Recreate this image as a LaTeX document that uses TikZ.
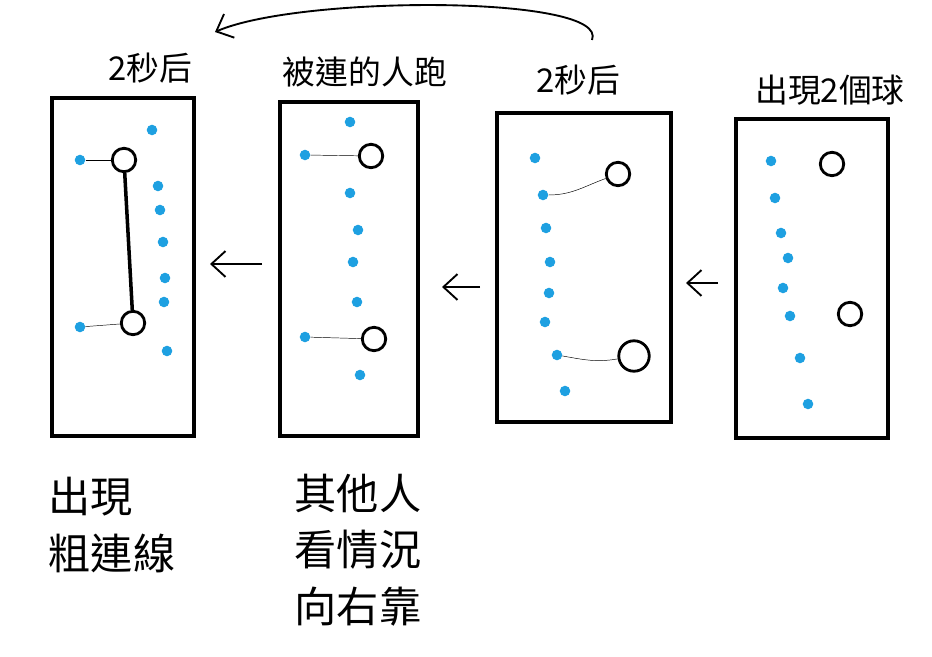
\documentclass[tikz,border=0pt]{standalone}
\usepackage{fontspec}
\newfontfamily\cjk{Noto Sans CJK TC}
\usetikzlibrary{arrows.meta,positioning}
\definecolor{ballblue}{RGB}{30,160,225}
\tikzset{
pane/.style={draw,line width=3.4pt},
ball/.style={circle,draw,line width=2.4pt,minimum size=20pt,inner sep=0pt},
man/.style={circle,fill=ballblue,minimum size=9pt,inner sep=0pt},
tag/.style={font=\cjk\fontsize{28}{32}\selectfont,inner sep=0pt},
note/.style={font=\cjk\fontsize{36}{48}\selectfont,align=left,inner sep=0pt},
back/.style={-{Straight Barb[length=12pt,width=22pt]},line width=1.6pt}
}
\begin{document}
\begin{tikzpicture}[x=0.03cm,y=-0.03cm]
\useasboundingbox[fill=white] (0,0) rectangle (932,657);
% panes
\draw[pane] (52,98) rectangle (194,436);
\draw[pane] (280,102) rectangle (418,436);
\draw[pane] (497,113) rectangle (671,422);
\draw[pane] (736,119) rectangle (888,438);
% pane 1
\node[ball] (a1) at (124,160) {};
\node[ball] (a2) at (133,323) {};
\node[man] (p1) at (80,160) {};
\node[man] (p2) at (80,327) {};
\draw (p1) -- (a1); \draw (p2) -- (a2);
\draw[line width=3pt] (a1) -- (a2);
\foreach \x/\y in {152/130,158/186,160/210,163/242,165/278,164/302,167/351}
  \node[man] at (\x,\y) {};
% pane 2
\node[ball] (b1) at (371,156) {};
\node[ball] (b2) at (374,339) {};
\node[man] (q1) at (305,155) {};
\node[man] (q2) at (305,337) {};
\draw (q1) -- (b1); \draw (q2) -- (b2);
\foreach \x/\y in {350/122,350/193,358/230,353/262,357/302,360/375}
  \node[man] at (\x,\y) {};
% pane 3
\node[ball] (c1) at (618,174) {};
\node[ball,minimum size=26pt] (c2) at (634,356) {};
\node[man] (r1) at (543,195) {};
\node[man] (r2) at (557,355) {};
\draw (r1) to[out=0,in=200] (c1);
\draw (r2) to[out=-10,in=190] (c2);
\foreach \x/\y in {535/158,546/228,550/262,549/293,545/322,565/391}
  \node[man] at (\x,\y) {};
% pane 4
\node[ball] (d1) at (832,164) {};
\node[ball] (d2) at (850,314) {};
\foreach \x/\y in {771/161,775/198,781/233,788/258,783/288,790/316,800/358,808/404}
  \node[man] at (\x,\y) {};
% arrows
\coordinate (s1) at (262,264); \coordinate (e1) at (210,264);
\coordinate (s2) at (480,287); \coordinate (e2) at (442,287);
\coordinate (s3) at (718,283); \coordinate (e3) at (686,283);
\draw[back] (s1) -- (e1);
\draw[back] (s2) -- (e2);
\draw[back] (s3) -- (e3);
% labels
\node[tag] (t1) at (150,68) {2秒后};
\node[tag] (t2) at (365,72) {被連的人跑};
\node[tag] (t3) at (578,80) {2秒后};
\node[tag] (t4) at (830,90) {出現2個球};
\coordinate (u1) at (592,40); \coordinate (u2) at (215,32);
\draw[back] (u1) .. controls (610,-5) and (300,-5) .. (u2);
\node[note] (n1) at (112,525) {出現\\粗連線};
\node[note] (n2) at (358,550) {其他人\\看情況\\向右靠};
\end{tikzpicture}
\end{document}
